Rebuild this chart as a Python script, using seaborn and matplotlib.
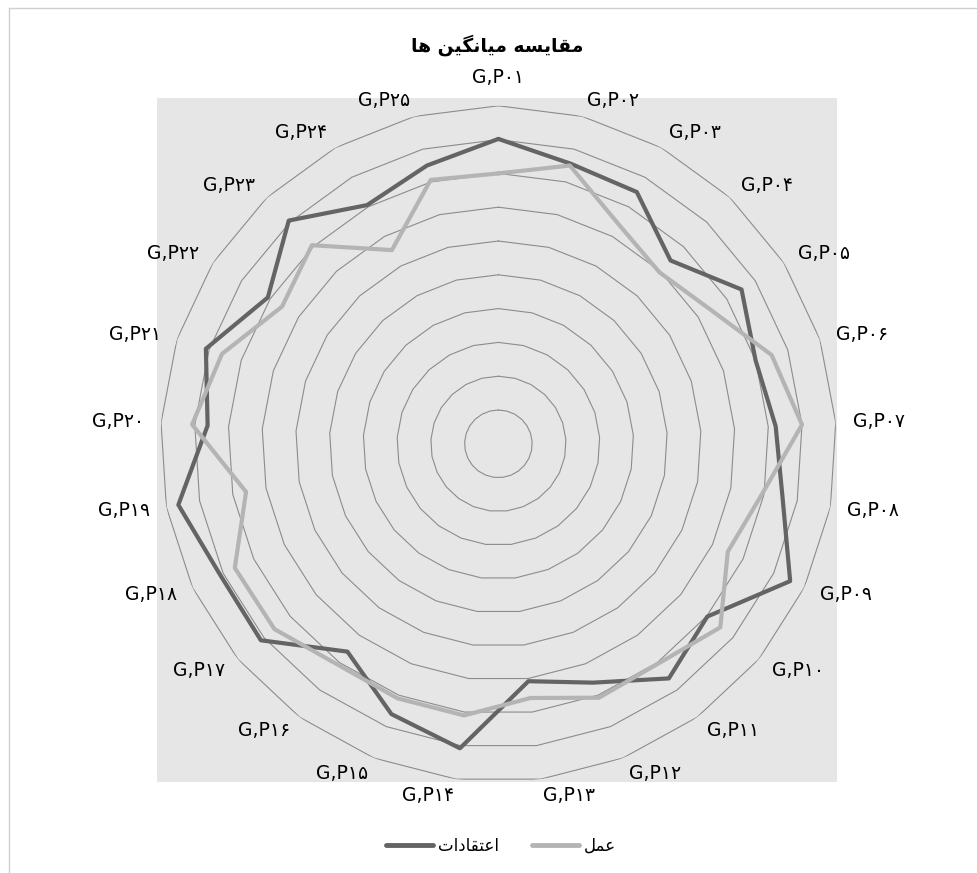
import numpy as np
import pandas as pd
import matplotlib
matplotlib.use('Agg')
import matplotlib.pyplot as plt
import seaborn as sns
from matplotlib.patches import Rectangle
from matplotlib.lines import Line2D

# categories (Persian digits) and the two series means
categories = ['G,P۰۱', 'G,P۰۲', 'G,P۰۳', 'G,P۰۴', 'G,P۰۵', 'G,P۰۶', 'G,P۰۷',
              'G,P۰۸', 'G,P۰۹', 'G,P۱۰', 'G,P۱۱', 'G,P۱۲', 'G,P۱۳', 'G,P۱۴',
              'G,P۱۵', 'G,P۱۶', 'G,P۱۷', 'G,P۱۸', 'G,P۱۹', 'G,P۲۰', 'G,P۲۱',
              'G,P۲۲', 'G,P۲۳', 'G,P۲۴', 'G,P۲۵']
beliefs = [4.51, 4.28, 4.25, 3.72, 4.26, 4.00, 4.11, 4.28, 4.77, 4.01, 4.29, 3.80, 3.54,
           4.54, 4.30, 3.80, 4.56, 4.55, 4.82, 4.31, 4.55, 4.04, 4.53, 4.03, 4.25]
practice = [4.00, 4.25, 3.70, 3.48, 3.71, 4.25, 4.50, 3.97, 3.75, 4.26, 4.02, 4.04, 3.79,
            4.05, 4.05, 4.04, 4.30, 4.31, 3.80, 4.54, 4.30, 3.79, 4.03, 3.27, 4.03]
series_names = ['اعتقادات', 'عمل']
title = 'مقایسه میانگین ها'
rings = np.arange(0.5, 5.01, 0.5)

dark = '#646464'
light = '#b4b4b4'


# matplotlib has no arabic shaping: pick presentation forms and reverse
FORMS = {
    'ا': ('\uFE8D', '\uFE8E', None, None),
    'د': ('\uFEA9', '\uFEAA', None, None),
    'ت': ('\uFE95', '\uFE96', '\uFE97', '\uFE98'),
    'س': ('\uFEB1', '\uFEB2', '\uFEB3', '\uFEB4'),
    'ع': ('\uFEC9', '\uFECA', '\uFECB', '\uFECC'),
    'ق': ('\uFED5', '\uFED6', '\uFED7', '\uFED8'),
    'ل': ('\uFEDD', '\uFEDE', '\uFEDF', '\uFEE0'),
    'م': ('\uFEE1', '\uFEE2', '\uFEE3', '\uFEE4'),
    'ن': ('\uFEE5', '\uFEE6', '\uFEE7', '\uFEE8'),
    'ه': ('\uFEE9', '\uFEEA', '\uFEEB', '\uFEEC'),
    'ی': ('\uFBFC', '\uFBFD', '\uFBFE', '\uFBFF'),
    'گ': ('\uFB92', '\uFB93', '\uFB94', '\uFB95'),
}


def shape(text):
    out = []
    for i, ch in enumerate(text):
        if ch not in FORMS:
            out.append(ch)
            continue
        prev = text[i - 1] if i > 0 else ''
        nxt = text[i + 1] if i + 1 < len(text) else ''
        prev_joins = prev in FORMS and FORMS[prev][2] is not None
        dual = FORMS[ch][2] is not None
        next_joins = dual and nxt in FORMS
        iso, fin, ini, med = FORMS[ch]
        if prev_joins and next_joins:
            out.append(med)
        elif prev_joins:
            out.append(fin)
        elif next_joins:
            out.append(ini)
        else:
            out.append(iso)
    return ''.join(out)[::-1]


sns.set_style('white')
plt.rcParams['font.family'] = ['DejaVu Sans']
plt.rcParams['text.color'] = 'black'

n = len(categories)
theta = np.linspace(0, 2 * np.pi, n, endpoint=False)
theta_closed = np.append(theta, 2 * np.pi)

df = pd.concat([
    pd.DataFrame({'theta': theta_closed, 'value': beliefs + beliefs[:1], 'series': series_names[0]}),
    pd.DataFrame({'theta': theta_closed, 'value': practice + practice[:1], 'series': series_names[1]}),
])

fig = plt.figure(figsize=(9.77, 8.73), dpi=100)
W, H = 977, 873

# chart border and grey plot area
fig.add_artist(Line2D([9 / W, 9 / W], [0, 1 - 8 / H], transform=fig.transFigure, color='#d0d0d0', lw=1))
fig.add_artist(Line2D([9 / W, 1], [1 - 8 / H, 1 - 8 / H], transform=fig.transFigure, color='#d0d0d0', lw=1))
fig.patches.append(Rectangle((157 / W, (H - 782) / H), 680 / W, 684 / H,
                             transform=fig.transFigure, facecolor='#e6e6e6', edgecolor='none', zorder=-10))

ax = fig.add_axes([160.4 / W, (H - 781.8) / H, 676 / W, 676 / H], projection='polar')
ax.patch.set_alpha(0)
ax.set_theta_zero_location('N')
ax.set_theta_direction(-1)
ax.set_ylim(0, 5)
ax.grid(False)
ax.set_xticks([])
ax.set_yticks([])
ax.spines['polar'].set_visible(False)

for r in rings:
    ax.plot(theta_closed, [r] * (n + 1), color='#8c8c8c', lw=0.8, zorder=1)

sns.lineplot(data=df, x='theta', y='value', hue='series', sort=False,
             palette={series_names[0]: dark, series_names[1]: light},
             linewidth=3, legend=False, ax=ax, zorder=3)
ax.set_xlabel('')
ax.set_ylabel('')

for t, lab in zip(theta, categories):
    s = np.sin(t)
    if abs(s) < 0.05:
        ha = 'center'
    elif s > 0:
        ha = 'left'
    else:
        ha = 'right'
    if t == 0:
        ax.text(t, 5.28, lab, ha='center', va='bottom', fontsize=13.5)
    else:
        ax.text(t, 5.25, lab, ha=ha, va='center', fontsize=13.5)

fig.text(497 / W, 1 - 45 / H, shape(title), ha='center', va='center',
         fontsize=13.5, fontweight='bold')

handles = [Line2D([], [], color=dark, lw=3.5), Line2D([], [], color=light, lw=3.5)]
fig.legend(handles=handles, labels=[shape(s) for s in series_names], loc='center',
           bbox_to_anchor=(501 / W, 1 - 846 / H), ncol=2, frameon=False,
           handlelength=2.8, handletextpad=0.3, columnspacing=2.0, fontsize=12)

fig.savefig('out.png', dpi=100)
